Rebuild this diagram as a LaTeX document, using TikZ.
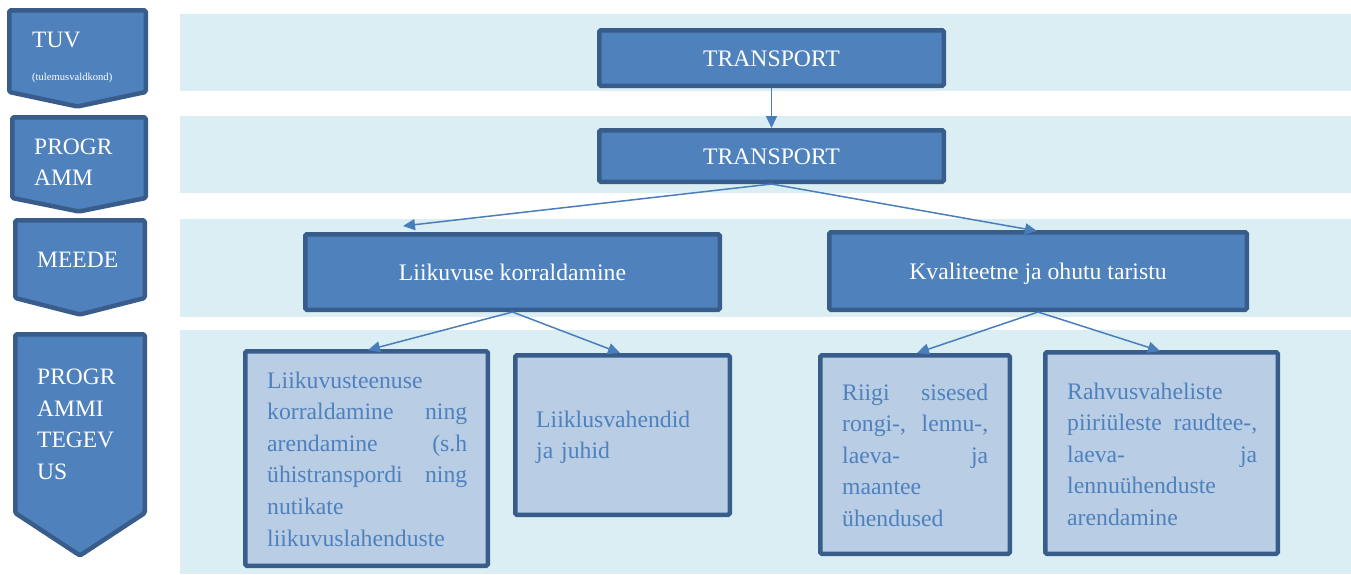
\documentclass[tikz,border=0pt]{standalone}
\usepackage{fontspec}
\setmainfont{Liberation Serif}
\usetikzlibrary{arrows.meta}
\definecolor{band}{HTML}{DAEEF3}
\definecolor{boxfill}{HTML}{4F81BD}
\definecolor{boxline}{HTML}{385D8A}
\definecolor{subfill}{HTML}{B9CDE5}
\definecolor{conncol}{HTML}{4A7EBB}
\begin{document}
\begin{tikzpicture}[x=1pt,y=-1pt,
  bandrect/.style={fill=band, draw=none},
  chev/.style={fill=boxfill, draw=boxline, line width=4.5pt, rounded corners=1.5pt, line join=round},
  mainbox/.style={rectangle, fill=boxfill, draw=boxline, line width=4.5pt, rounded corners=1.5pt, text=white, font=\fontsize{23.7}{28}\selectfont, inner sep=0pt, text height=16pt, text depth=0pt},
  subbox/.style={rectangle, fill=subfill, draw=boxline, line width=4.5pt, rounded corners=1.5pt, inner sep=0pt},
  subtext/.style={anchor=base west, inner sep=0pt, align=left, text=boxfill, font=\fontsize{23.7}{31.6}\selectfont},
  chevtext/.style={anchor=base west, inner sep=0pt, align=left, text=white, text width=110pt, font=\fontsize{23.5}{31.5}\selectfont},
  conn/.style={draw=conncol, line width=1.5pt, -{Triangle[length=12pt,width=11pt]}},
]
\useasboundingbox (0,0) rectangle (1351,574);
% bands
\fill[bandrect] (180,14) rectangle (1351,91);
\fill[bandrect] (180,116) rectangle (1351,193);
\fill[bandrect] (180,219) rectangle (1351,317);
\fill[bandrect] (180,330) rectangle (1351,574);
% chevrons
\draw[chev] (9.25,10.25) -- (145.75,10.25) -- (145.75,92) -- (77.5,106.5) -- (9.25,92) -- cycle;
\draw[chev] (12.25,117.25) -- (145.75,117.25) -- (145.75,198) -- (79,211.5) -- (12.25,198) -- cycle;
\draw[chev] (15.25,220.25) -- (144.75,220.25) -- (144.75,298) -- (80,314.5) -- (15.25,298) -- cycle;
\draw[chev] (15.25,334.25) -- (144.75,334.25) -- (144.75,513) -- (80,555.5) -- (15.25,513) -- cycle;
\node[chevtext] (tuvt) at (32,47) {TUV};
\node[chevtext, font=\fontsize{10.6}{12}\selectfont] (tuvs) at (32,80) {(tulemusvaldkond)};
\node[chevtext] (prt) at (34,154) {PROGR\\AMM};
\node[chevtext] (met) at (37,267) {MEEDE};
\node[chevtext] (ptt) at (37,384.5) {PROGR\\AMMI\\TEGEV\\US};
% main boxes
\node[mainbox, minimum width=344.5pt, minimum height=55.5pt] (t1) at (771.5,58) {TRANSPORT};
\node[mainbox, minimum width=344.5pt, minimum height=51.5pt] (t2) at (771.5,156) {TRANSPORT};
\node[mainbox, minimum width=414.5pt, minimum height=75.5pt] (liik) at (512.5,272) {Liikuvuse korraldamine};
\node[mainbox, minimum width=417.5pt, minimum height=77.5pt] (kval) at (1038,271) {Kvaliteetne ja ohutu taristu};
% sub boxes
\node[subbox, minimum width=242.5pt, minimum height=214.5pt] (boxa) at (366.5,458.5) {};
\node[subbox, minimum width=214.5pt, minimum height=159.5pt] (boxb) at (622.5,435) {};
\node[subbox, minimum width=189.5pt, minimum height=198.5pt] (boxc) at (915,454.5) {};
\node[subbox, minimum width=232.5pt, minimum height=201.5pt] (boxd) at (1161.5,453) {};
\node[subtext, text width=200pt] (texta) at (267,388) {Liikuvusteenuse\\korraldamine\hfill ning\\arendamine\hfill (s.h\\ühistranspordi\hfill ning\\nutikate\\liikuvuslahenduste};
\node[subtext, text width=180pt] (textb) at (536,427) {Liiklusvahendid\\ja juhid};
\node[subtext, text width=146pt] (textc) at (842,400) {Riigi\hfill sisesed\\rongi-,\hfill lennu-,\\laeva-\hfill ja\\maantee\\ühendused};
\node[subtext, text width=190pt] (textd) at (1067,399) {Rahvusvaheliste\\piiriüleste\hfill raudtee-,\\laeva-\hfill ja\\lennuühenduste\\arendamine};
% connectors
\coordinate (liikin) at (403,226);
\coordinate (kvalin) at (1037,231);
\coordinate (ain) at (368,350);
\coordinate (bin) at (620,353);
\coordinate (cin) at (917,353);
\coordinate (din) at (1160,351);
\draw[conn] (t1.south) -- (t2.north);
\draw[conn] (t2.south) -- (liikin);
\draw[conn] (t2.south) -- (kvalin);
\draw[conn] (liik.south) -- (ain);
\draw[conn] (liik.south) -- (bin);
\draw[conn] (kval.south) -- (cin);
\draw[conn] (kval.south) -- (din);
\end{tikzpicture}
\end{document}
